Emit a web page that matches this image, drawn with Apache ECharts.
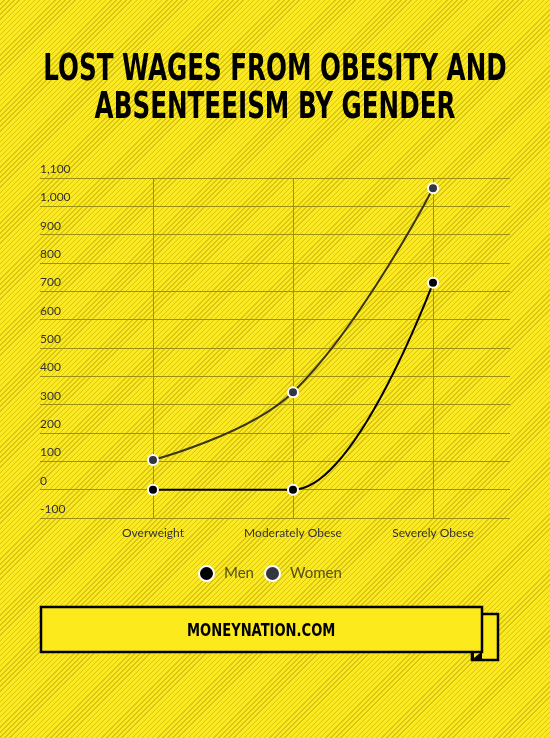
<!DOCTYPE html>
<html lang="en">
<head>
    <meta charset="UTF-8">
    <title>Lost wages from obesity and absenteeism by gender</title>
    <style>
        html,body{
            padding: 0;margin: 0;width: 550px;height: 738px;overflow: hidden;
            background: repeating-linear-gradient(135deg, #fde91f 0, #fde91f 2.6px, #d8c617 2.6px, #d8c617 3.6px);
        }
        #chart{
            width: 550px;height: 738px;
        }
    </style>
    <script src="https://cdn.jsdelivr.net/npm/echarts@6/dist/echarts.min.js"></script>
</head>
<body>
<div id="chart"></div>
<script>
    // data
    var categories = ['Overweight', 'Moderately Obese', 'Severely Obese'];
    var men = [0, 0, 730];
    var women = [105, 344, 1064];
    var yMin = -100, yMax = 1100, yStep = 100;
    var titleLines = ['LOST WAGES FROM OBESITY AND', 'ABSENTEEISM BY GENDER'];

    var gridColor = '#9e9010';
    var fill = '#fcea1d';
    var boldFont = '"DejaVu Sans Condensed", "DejaVu Sans", sans-serif';

    var myChart = echarts.init(document.getElementById('chart'));

    // no narrow bold font installed, so squeeze the text horizontally
    function titleText(str, y) {
        return {
            type: 'text', x: 275, y: y, scaleX: 0.72,
            style: {
                text: str, fill: '#000', align: 'center', verticalAlign: 'middle',
                font: 'bold 38px ' + boldFont
            }
        };
    }

    var option = {
        animation: false,
        legend: {
            left: 193,
            top: 560,
            icon: 'circle',
            itemWidth: 15,
            itemHeight: 15,
            itemGap: 10,
            data: ['Men', 'Women'],
            textStyle: {fontFamily: 'Lato', fontSize: 15, color: '#55501a', padding: [0, 0, 0, 5]}
        },
        grid: [
            {left: 153, right: 117, top: 178, bottom: 220},
            {left: 40, right: 40, top: 178, bottom: 220}
        ],
        xAxis: [
            {
                type: 'category', gridIndex: 0, data: categories, boundaryGap: false,
                axisLine: {show: false}, axisTick: {show: false},
                axisLabel: {fontFamily: 'Lato', fontSize: 12, color: '#333', margin: 9},
                splitLine: {show: true, lineStyle: {color: gridColor, width: 1}}
            },
            {type: 'value', gridIndex: 1, show: false}
        ],
        yAxis: [
            {type: 'value', gridIndex: 0, min: yMin, max: yMax, interval: yStep, show: false},
            {
                type: 'value', gridIndex: 1, min: yMin, max: yMax, interval: yStep,
                axisLine: {show: false}, axisTick: {show: false},
                axisLabel: {
                    inside: true, margin: 0, verticalAlign: 'bottom', padding: [0, 0, 3, 0],
                    fontFamily: 'Lato', fontSize: 12, color: '#333',
                    formatter: function (v) { return v.toLocaleString('en-US'); }
                },
                splitLine: {lineStyle: {color: gridColor, width: 1}}
            }
        ],
        series: [
            {
                name: 'Men', type: 'line', data: men,
                xAxisIndex: 0, yAxisIndex: 0,
                smooth: 0.45, smoothMonotone: 'x',
                symbol: 'circle', symbolSize: 10, z: 3,
                lineStyle: {color: '#000', width: 2},
                itemStyle: {color: '#000', borderColor: '#fff', borderWidth: 2}
            },
            {
                name: 'Women', type: 'line', data: women,
                xAxisIndex: 0, yAxisIndex: 0,
                smooth: 0.4,
                symbol: 'circle', symbolSize: 10, z: 2,
                lineStyle: {color: '#3a3514', width: 2},
                itemStyle: {color: '#34363f', borderColor: '#fff', borderWidth: 2}
            }
        ],
        graphic: [
            titleText(titleLines[0], 70),
            titleText(titleLines[1], 108),
            {
                type: 'rect', shape: {x: 472, y: 614, width: 26, height: 46},
                style: {fill: fill, stroke: '#000', lineWidth: 2.5}
            },
            {
                type: 'polygon', shape: {points: [[472, 652], [482, 652], [482, 660], [472, 660]]},
                style: {fill: '#000'}
            },
            {
                type: 'polygon', shape: {points: [[474, 653], [480, 653], [474, 658]]},
                style: {fill: fill}
            },
            {
                type: 'rect', shape: {x: 41, y: 607, width: 441, height: 45},
                style: {fill: fill, stroke: '#000', lineWidth: 2.5}
            },
            {
                type: 'text', x: 187, y: 631, scaleX: 0.81,
                style: {
                    text: 'MONEYNATION.COM', fill: '#000', align: 'left', verticalAlign: 'middle',
                    font: 'bold 18px ' + boldFont
                }
            }
        ]
    };
    myChart.setOption(option);
</script>
</body>
</html>
